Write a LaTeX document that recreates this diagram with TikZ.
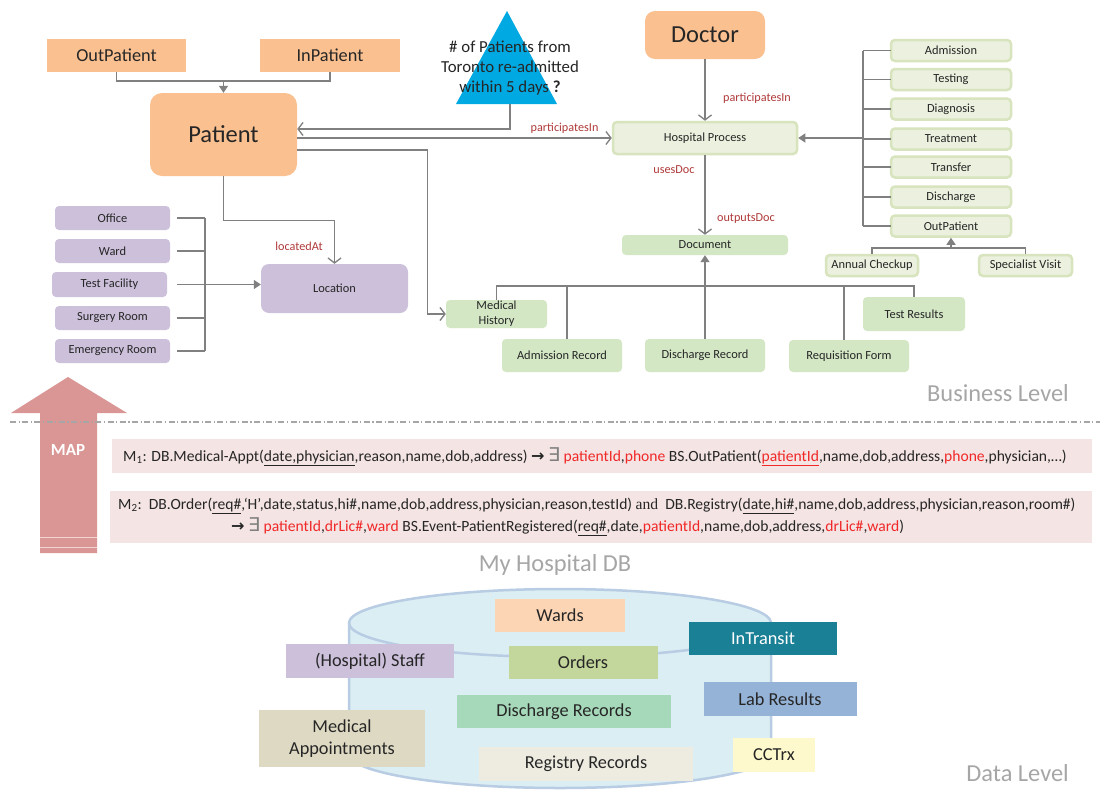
\documentclass[tikz,border=0pt]{standalone}
\usepackage{fontspec}
\setmainfont{Carlito}
\newfontfamily\symfont{DejaVu Sans}
\newfontfamily\andfont{Liberation Serif}
\usetikzlibrary{arrows.meta}

\definecolor{orangebox}{HTML}{FAC090}
\definecolor{purplebox}{HTML}{CCC0DA}
\definecolor{greenbox}{HTML}{D3E7C5}
\definecolor{palegreen}{HTML}{EBF1DE}
\definecolor{greenedge}{HTML}{D7E4BD}
\definecolor{linegray}{HTML}{808080}
\definecolor{labelred}{HTML}{B03A3A}
\definecolor{txt}{HTML}{262626}
\definecolor{captiongray}{HTML}{A6A6A6}
\definecolor{qblue}{HTML}{00A9E2}
\definecolor{mapred}{HTML}{D99694}
\definecolor{mapbg}{HTML}{F4E4E3}
\definecolor{hot}{HTML}{F02828}
\definecolor{exgray}{HTML}{7F7F7F}
\definecolor{dbfill}{HTML}{DBEEF4}
\definecolor{dbline}{HTML}{B8CCE4}
\definecolor{wardsc}{HTML}{FCD5B4}
\definecolor{transitc}{HTML}{1A8096}
\definecolor{ordersc}{HTML}{C3D69B}
\definecolor{labc}{HTML}{95B3D7}
\definecolor{dischc}{HTML}{A6D9B9}
\definecolor{appc}{HTML}{DDD9C3}
\definecolor{cctrxc}{HTML}{FEF9CC}
\definecolor{regc}{HTML}{EEECE1}

\newcommand\hl[1]{\textcolor{hot}{#1}}
\newcommand\exq{{\symfont\color{exgray}\fontsize{19}{18}\selectfont ∃}}
\newcommand\impl{{\symfont\bfseries\fontsize{16}{18}\selectfont →}}

\tikzset{
  box/.style={rectangle, inner sep=0pt, text=txt, align=center},
  f12/.style={font=\fontsize{12.4}{15}\selectfont},
  f18/.style={font=\fontsize{18.3}{21.5}\selectfont},
  f24/.style={font=\fontsize{24.5}{28}\selectfont},
  orangenode/.style={box, fill=orangebox},
  purplenode/.style={box, f12, fill=purplebox, rounded corners=4pt},
  docnode/.style={box, f12, fill=greenbox, rounded corners=4pt},
  procnode/.style={box, f12, fill=palegreen, draw=greenedge, line width=2.5pt, rounded corners=4pt},
  dbbox/.style={box, f18},
  conn/.style={draw=linegray, line width=1.3pt},
  openarrow/.style={conn, -{Straight Barb[length=5pt,width=13pt]}},
  fullarrow/.style={conn, -{Triangle[length=7pt,width=9pt]}},
  lbl/.style={text=labelred, inner sep=0pt, font=\fontsize{12.2}{14}\selectfont},
  caption/.style={text=captiongray, inner sep=0pt, font=\fontsize{24.4}{28}\selectfont},
  maptext/.style={text=txt, inner sep=0pt, anchor=west, font=\fontsize{15.6}{18}\selectfont},
}

\begin{document}
\begin{tikzpicture}[x=1pt,y=-1pt]
\useasboundingbox (0,0) rectangle (1100,790);
\fill[white] (0,0) rectangle (1100,790);

% ---------- business level: patient side ----------
\node[orangenode, f18, minimum width=139pt, minimum height=33pt] (outp) at (116.5,55.5) {OutPatient};
\node[orangenode, f18, minimum width=140pt, minimum height=33pt] (inp) at (330,55.5) {InPatient};
\node[orangenode, f24, minimum width=147pt, minimum height=83pt, rounded corners=12pt] (patient) at (223.5,134.5) {Patient};
\node[orangenode, f24, minimum width=120pt, minimum height=48pt, rounded corners=10pt] (doctor) at (705,35) {Doctor};

% question triangle
\fill[qblue] (507,11) -- (557,104) -- (456,104) -- cycle;
\coordinate (qbase) at (510,104);
\node[inner sep=0pt, align=center, text=txt, font=\fontsize{16.8}{20}\selectfont] (question) at (510,68)
  {\# of Patients from\\Toronto re-admitted\\within 5 days \textbf{?}};

% hospital process and documents
\node[procnode, minimum width=184pt, minimum height=32pt] (hp) at (705,138) {Hospital Process};
\node[docnode, minimum width=166pt, minimum height=20pt] (doc) at (705,245) {Document};
\node[docnode, minimum width=101pt, minimum height=28pt] (medhist) at (496.5,314) {Medical\\History};
\node[docnode, minimum width=120pt, minimum height=33pt] (admrec) at (562,355.5) {Admission Record};
\node[docnode, minimum width=120pt, minimum height=33pt] (disrec) at (705,355.5) {Discharge Record};
\node[docnode, minimum width=120pt, minimum height=32pt] (reqform) at (849,356) {Requisition Form};
\node[docnode, minimum width=102pt, minimum height=34pt] (testres) at (914,314) {Test Results};

% locations
\node[purplenode, minimum width=147pt, minimum height=49pt, rounded corners=8pt] (location) at (334.5,288.5) {Location};
\node[purplenode, minimum width=115pt, minimum height=24pt] (office) at (112.5,218) {Office};
\node[purplenode, minimum width=115pt, minimum height=24pt] (ward) at (112.5,251) {Ward};
\node[purplenode, minimum width=115pt, minimum height=25pt] (testfac) at (109.5,284.5) {Test Facility};
\node[purplenode, minimum width=115pt, minimum height=24pt] (surgery) at (112.5,318) {Surgery Room};
\node[purplenode, minimum width=115pt, minimum height=24pt] (emerg) at (112.5,351) {Emergency Room};

% process kinds
\foreach \nm/\yy/\tx in {padm/50.5/Admission, ptest/79.5/Testing, pdiag/109/Diagnosis,
                         ptreat/139/Treatment, ptrans/167/Transfer, pdisch/197/Discharge,
                         pout/226/OutPatient}
  \node[procnode, minimum width=120pt, minimum height=21pt] (\nm) at (951,\yy) {\tx};
\node[procnode, minimum width=92pt, minimum height=21pt] (annual) at (872,265.5) {Annual Checkup};
\node[procnode, minimum width=93pt, minimum height=21pt] (special) at (1025.5,265.5) {\raisebox{-2pt}{Specialist Visit}};

% ---------- connectors ----------
\coordinate (jn) at (0,81);
\draw[conn] (outp.south) |- (inp.south |- jn) -- (inp.south);
\draw[fullarrow] (patient.north |- jn) -- (patient.north);

\draw[openarrow] (qbase) |- ([yshift=5.5pt]patient.east);
\draw[openarrow] (patient.east |- hp.west) -- (hp.west)
  node[lbl, pos=0.85, above=4pt] {participatesIn};
\draw[openarrow] ([yshift=-15.5pt]patient.east) -- ++(130,0) |- (medhist.west);
\draw[openarrow] (patient.south) -- ++(0,44) -| (location.north);
\node[lbl] (locatedlbl) at (299,246) {locatedAt};

\draw[openarrow] (doctor.south) -- (hp.north);
\node[lbl, anchor=west] (partlbl) at (723,98) {participatesIn};
\draw[openarrow] (hp.south) -- (doc.north);
\node[lbl] (useslbl) at (674,170) {usesDoc};
\node[lbl] (outlbl) at (746,219) {outputsDoc};

% location kinds
\coordinate (pbus) at (205,0);
\foreach \nm in {office, ward, surgery, emerg}
  \draw[conn] ([xshift=7pt]\nm.east) -- (\nm.east -| pbus);
\draw[conn] ([xshift=10pt]testfac.east) -- (testfac.east -| pbus);
\draw[conn] (office.east -| pbus) -- (emerg.east -| pbus);
\draw[fullarrow] (testfac.east -| pbus) -- (location.west |- testfac.east);

% document kinds
\coordinate (dbus) at (0,286);
\draw[conn] (medhist.north) |- (testres.north |- dbus) -- (testres.north);
\draw[conn] ([xshift=5pt]admrec.north) -- ([xshift=5pt]admrec.north |- dbus);
\draw[conn] ([xshift=-5pt]reqform.north) -- ([xshift=-5pt]reqform.north |- dbus);
\draw[fullarrow] (disrec.north) -- (doc.south);

% process kinds
\coordinate (sbus) at (863,0);
\foreach \nm in {padm, ptest, pdiag, ptreat, ptrans, pdisch, pout}
  \draw[conn] (\nm.west -| sbus) -- ([xshift=1pt]\nm.west);
\draw[conn] (padm.west -| sbus) -- (pout.west -| sbus);
\draw[fullarrow] (hp.east -| sbus) -- (hp.east);
\coordinate (abus) at (0,248);
\draw[conn] (annual.north) |- (special.north |- abus) -- (special.north);
\draw[fullarrow] (pout.south |- abus) -- (pout.south);

\node[caption, anchor=east] (buslevel) at (1069,393) {Business Level};

% ---------- mapping layer ----------
\fill[mapred] (40,553) -- (40,413) -- (11,413) -- (68,377) -- (127,413) -- (97,413) -- (97,553) -- cycle;
\draw[white, opacity=0.6, line width=0.6pt] (40,537) -- (97,537) (40,547) -- (97,547);
\node[text=white, inner sep=0pt, font=\fontsize{17}{20}\selectfont\bfseries] (maplbl) at (68,450) {MAP};

\draw[captiongray, line width=1.2pt, dash pattern=on 6pt off 2.5pt on 1.2pt off 2.5pt] (10,422) -- (1100,422);

\fill[mapbg] (112,439) rectangle (1092,473);
\fill[mapbg] (110,491) rectangle (1092,543);
\node[maptext] (m1) at (123,457)
  {M\textsubscript{1}: DB.Medical-Appt(\underline{date,physician},reason,name,dob,address) \impl\ \exq\ \hl{patientId},\hl{phone} BS.OutPatient(\hl{\underline{patientId}},name,dob,address,\hl{phone},physician,…)};
\node[maptext] (m2a) at (118,506)
  {M\textsubscript{2}:\ \ DB.Order(\underline{req\#},`H',date,status,hi\#,name,dob,address,physician,reason,testId) {\andfont and}\ \ DB.Registry(\underline{date,hi\#},name,dob,address,physician,reason,room\#)};
\node[maptext] (m2b) at (231,527)
  {\impl\ \exq\ \hl{patientId},\hl{drLic\#},\hl{ward} BS.Event-PatientRegistered(\underline{req\#},date,\hl{patientId},name,dob,address,\hl{drLic\#},\hl{ward})};

% ---------- data level ----------
\node[caption] (dbname) at (555,565) {My Hospital DB};
\path[fill=dbfill, draw=dbline, line width=2.5pt]
  (349,623) -- (349,754) arc[start angle=180, end angle=0, x radius=211, y radius=34]
  -- (771,623) arc[start angle=0, end angle=-180, x radius=211, y radius=34] -- cycle;
\draw[dbline, line width=2.5pt] (349,623) arc[start angle=180, end angle=0, x radius=211, y radius=34];

\node[dbbox, fill=wardsc, minimum width=130pt, minimum height=33pt] (wards) at (560,615.5) {Wards};
\node[dbbox, fill=transitc, text=white, minimum width=148pt, minimum height=33pt] (transit) at (763,638.5) {InTransit};
\node[dbbox, fill=purplebox, minimum width=168pt, minimum height=34pt] (staff) at (370,661) {(Hospital) Staff};
\node[dbbox, fill=ordersc, minimum width=149pt, minimum height=33pt] (orders) at (583,662.5) {Orders};
\node[dbbox, fill=labc, minimum width=153pt, minimum height=34pt] (labres) at (780,699) {Lab Results};
\node[dbbox, fill=dischc, minimum width=214pt, minimum height=33pt] (dischrec) at (564,711.5) {Discharge Records};
\node[dbbox, fill=appc, minimum width=166pt, minimum height=57pt] (medapp) at (342,738.5) {Medical\\Appointments};
\node[dbbox, fill=cctrxc, minimum width=82pt, minimum height=34pt] (cctrx) at (774,755) {CCTrx};
\node[dbbox, fill=regc, minimum width=214pt, minimum height=34pt] (regrec) at (586,764) {Registry Records};

\node[caption, anchor=east] (datalevel) at (1069,773) {Data Level};
\end{tikzpicture}
\end{document}
